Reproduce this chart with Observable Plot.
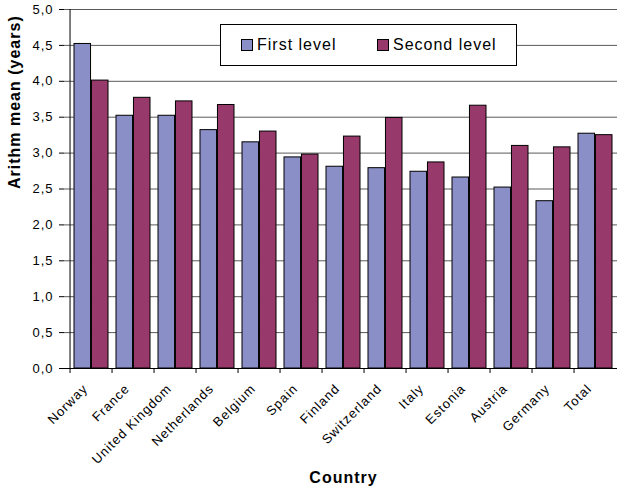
<!DOCTYPE html>
<html>
<head>
<meta charset="utf-8">
<script src="https://cdn.jsdelivr.net/npm/d3@7"></script>
<script src="https://cdn.jsdelivr.net/npm/@observablehq/plot@0.6"></script>
<style>
  html, body { margin: 0; padding: 0; background: white; overflow: hidden; }
  #wrap { position: relative; width: 617px; height: 495px; }
  #wrap svg text { letter-spacing: 1px; }
  #wrap svg text.title { letter-spacing: 0.5px; }
  .legend {
    position: absolute; left: 220px; top: 24px; width: 297px; height: 42px;
    box-sizing: border-box; border: 1px solid #000; background: #fff;
    font-family: "Liberation Sans", Arial, sans-serif; font-size: 16px; letter-spacing: 1px;
  }
  .legend .item { position: absolute; top: 0; height: 40px; display: flex; align-items: center; }
  .legend .sw { width: 12px; height: 12px; box-sizing: border-box; border: 1px solid #000; margin-right: 4px; }
</style>
</head>
<body>
<div id="wrap"></div>
<script>
const countries = ["Norway","France","United Kingdom","Netherlands","Belgium","Spain","Finland","Switzerland","Italy","Estonia","Austria","Germany","Total"];
const firstLevel  = [4.52, 3.52, 3.52, 3.32, 3.15, 2.94, 2.81, 2.79, 2.74, 2.66, 2.52, 2.33, 3.27];
const secondLevel = [4.01, 3.77, 3.72, 3.67, 3.30, 2.98, 3.23, 3.49, 2.87, 3.66, 3.10, 3.08, 3.25];
const seriesNames = ["First level", "Second level"];
const seriesColors = ["#8b8fc7", "#98396b"];
const yTicks = [0, 0.5, 1, 1.5, 2, 2.5, 3, 3.5, 4, 4.5, 5];
const yTitle = "Arithm mean (years)";
const xTitle = "Country";

const W = 617, H = 495, mL = 64, mR = -5, mT = 9, mB = 127;
const step = (W - mR - mL) / countries.length;
const outer = 4, barW = (step - 2 * outer) / 2;

const firstData = countries.map((c, i) => ({country: c, value: firstLevel[i]}));
const secondData = countries.map((c, i) => ({country: c, value: secondLevel[i]}));
const fmt = d => d.toFixed(1).replace(".", ",");

const chart = Plot.plot({
  width: W, height: H,
  marginLeft: mL, marginRight: mR, marginTop: mT, marginBottom: mB,
  style: {fontFamily: "'Liberation Sans', Arial, sans-serif", background: "white", overflow: "hidden", color: "black"},
  x: {domain: countries, padding: 0, axis: null},
  y: {domain: [0, 5], axis: null},
  marks: [
    Plot.ruleY(yTicks, {stroke: "#5a5a5a", strokeWidth: 1}),
    Plot.barY(firstData, {x: "country", y: "value", fill: seriesColors[0], stroke: "black", strokeWidth: 1,
      insetLeft: outer, insetRight: step - outer - barW}),
    Plot.barY(secondData, {x: "country", y: "value", fill: seriesColors[1], stroke: "black", strokeWidth: 1,
      insetLeft: outer + barW, insetRight: outer}),
    Plot.ruleY([0], {stroke: "black"}),
    Plot.ruleX([countries[0]], {x: d => d, dx: -step / 2, stroke: "black"}),
    Plot.axisY({ticks: yTicks, tickSize: 5, tickPadding: 6, tickFormat: fmt, fontSize: 13, label: null}),
    Plot.axisX({tickSize: 5, tickFormat: () => "", dx: -step / 2, label: null}),
    Plot.text(countries, {x: d => d, frameAnchor: "bottom", rotate: -45, textAnchor: "end", lineAnchor: "middle",
      dx: -6, dy: 18, fontSize: 13}),
    Plot.text([yTitle], {frameAnchor: "left", rotate: -90, dx: -49.5, fontWeight: "bold", fontSize: 16, className: "title"}),
    Plot.text([xTitle], {frameAnchor: "bottom", dy: 114, fontWeight: "bold", fontSize: 16, className: "title"})
  ]
});
const wrap = document.getElementById("wrap");
wrap.appendChild(chart);

const legend = document.createElement("div");
legend.className = "legend";
const itemLefts = [20, 156];
seriesNames.forEach((name, i) => {
  const item = document.createElement("div");
  item.className = "item";
  item.style.left = itemLefts[i] + "px";
  const sw = document.createElement("div");
  sw.className = "sw";
  sw.style.background = seriesColors[i];
  const label = document.createElement("span");
  label.textContent = name;
  item.appendChild(sw);
  item.appendChild(label);
  legend.appendChild(item);
});
wrap.appendChild(legend);
</script>
</body>
</html>
